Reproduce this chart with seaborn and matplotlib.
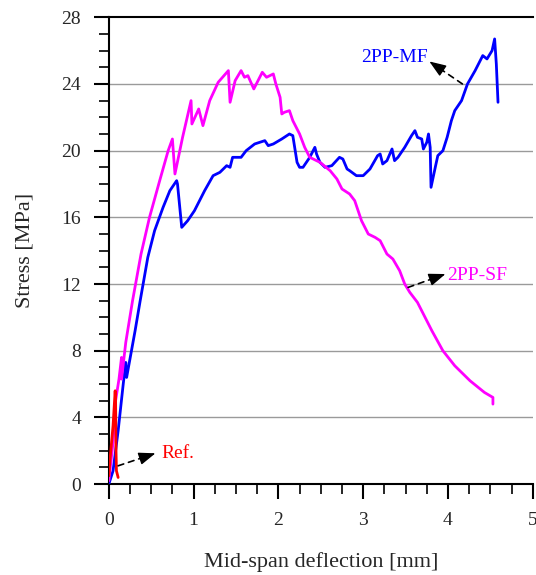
import numpy as np
import pandas as pd
import matplotlib
matplotlib.use("Agg")
import matplotlib.pyplot as plt
import seaborn as sns
from matplotlib.ticker import MultipleLocator

# Load-deflection curves (deflection in mm, stress in MPa)
ref_x = [0.0, 0.02, 0.05, 0.075, 0.08, 0.085, 0.09, 0.11]
ref_y = [0.5, 1.8, 3.5, 5.6, 5.0, 2.0, 0.8, 0.4]

sf_x = [0.0, 0.05, 0.08, 0.12, 0.15, 0.15, 0.2, 0.28, 0.38, 0.48, 0.6, 0.70, 0.75,
        0.78, 0.87, 0.97, 0.98, 1.06, 1.11, 1.19, 1.29, 1.41, 1.43, 1.49, 1.56,
        1.60, 1.64, 1.71, 1.81, 1.86, 1.94, 1.97, 2.02, 2.04, 2.07, 2.13, 2.17,
        2.25, 2.31, 2.37, 2.49, 2.61, 2.69, 2.75, 2.84, 2.90, 2.98, 3.06, 3.14,
        3.20, 3.28, 3.35, 3.43, 3.49, 3.55, 3.64, 3.73, 3.81, 3.94, 4.08, 4.26,
        4.43, 4.53, 4.53]
sf_y = [0.2, 2.5, 5.0, 6.3, 7.6, 6.3, 8.5, 11.0, 13.8, 16.0, 18.2, 20.0, 20.7,
        18.6, 20.8, 23.0, 21.6, 22.5, 21.5, 23.0, 24.1, 24.8, 22.9, 24.2, 24.8,
        24.4, 24.5, 23.7, 24.7, 24.4, 24.6, 24.0, 23.2, 22.2, 22.3, 22.4, 21.8,
        21.0, 20.2, 19.6, 19.3, 18.8, 18.3, 17.7, 17.4, 17.0, 15.8, 15.0, 14.8,
        14.6, 13.8, 13.5, 12.8, 12.0, 11.5, 10.9, 10.0, 9.2, 8.0, 7.1, 6.2,
        5.5, 5.2, 4.8]

mf_x = [0.0, 0.05, 0.11, 0.17, 0.20, 0.21, 0.31, 0.37, 0.46, 0.54, 0.64, 0.72,
        0.80, 0.81, 0.86, 0.93, 1.01, 1.07, 1.13, 1.23, 1.31, 1.39, 1.43, 1.46,
        1.56, 1.62, 1.72, 1.84, 1.88, 1.94, 2.04, 2.13, 2.17, 2.22, 2.25, 2.29,
        2.37, 2.43, 2.45, 2.49, 2.55, 2.63, 2.72, 2.76, 2.81, 2.84, 2.92, 3.00,
        3.08, 3.17, 3.20, 3.23, 3.28, 3.34, 3.37, 3.41, 3.49, 3.57, 3.61, 3.64,
        3.69, 3.71, 3.75, 3.77, 3.79, 3.80, 3.85, 3.88, 3.94, 3.99, 4.04, 4.08,
        4.16, 4.23, 4.32, 4.40, 4.41, 4.46, 4.52, 4.55, 4.57, 4.59]
mf_y = [0.0, 0.8, 3.2, 6.0, 7.3, 6.4, 9.2, 11.0, 13.6, 15.2, 16.6, 17.6,
        18.2, 18.0, 15.4, 15.8, 16.4, 17.0, 17.6, 18.5, 18.7, 19.1, 19.0, 19.6,
        19.6, 20.0, 20.4, 20.6, 20.3, 20.4, 20.7, 21.0, 20.9, 19.3, 19.0, 19.0,
        19.6, 20.2, 19.8, 19.3, 19.0, 19.1, 19.6, 19.5, 18.9, 18.8, 18.5, 18.5,
        18.9, 19.7, 19.8, 19.2, 19.4, 20.1, 19.4, 19.6, 20.2, 20.9, 21.2, 20.8,
        20.7, 20.1, 20.5, 21.0, 20.2, 17.8, 19.0, 19.7, 20.0, 20.8, 21.8, 22.4,
        23.0, 24.0, 24.8, 25.6, 25.7, 25.5, 26.0, 26.7, 25.2, 22.9]

colors = {"Ref.": "#ff0000", "2PP-SF": "#ff00ff", "2PP-MF": "#0000ff"}

frames = []
for name, xs, ys in [("2PP-MF", mf_x, mf_y), ("2PP-SF", sf_x, sf_y), ("Ref.", ref_x, ref_y)]:
    frames.append(pd.DataFrame({"deflection": xs, "stress": ys, "specimen": name}))
df = pd.concat(frames, ignore_index=True)

sns.set_style("white")
plt.rcParams["font.family"] = ["Liberation Serif", "DejaVu Serif"]

fig = plt.figure(figsize=(5.36, 5.75), dpi=100)
ax = fig.add_axes([0.203, 0.158, 0.791, 0.812])

for name in ["2PP-MF", "2PP-SF", "Ref."]:
    sub = df[df["specimen"] == name]
    sns.lineplot(data=sub, x="deflection", y="stress", sort=False, estimator=None,
                 color=colors[name], lw=2.0, ax=ax, legend=False, zorder=3)

ax.set_xlim(0, 5)
ax.set_ylim(0, 28)
ax.xaxis.set_major_locator(MultipleLocator(1))
ax.xaxis.set_minor_locator(MultipleLocator(0.25))
ax.yaxis.set_major_locator(MultipleLocator(4))
ax.yaxis.set_minor_locator(MultipleLocator(1))

for yv in range(4, 28, 4):
    ax.axhline(yv, color="#9a9a9a", lw=1.0, zorder=1)

ax.tick_params(axis="both", which="major", direction="out", length=11, width=1.5,
               labelsize=14, color="black", bottom=True, left=True)
ax.tick_params(axis="both", which="minor", direction="out", length=7, width=1.2,
               color="black", bottom=True, left=True)
ax.tick_params(axis="x", which="major", pad=9)
ax.tick_params(axis="y", which="major", pad=9)

for side in ["left", "bottom", "top"]:
    ax.spines[side].set_visible(True)
    ax.spines[side].set_linewidth(1.5)
    ax.spines[side].set_color("black")
ax.spines["right"].set_visible(False)

ax.set_xlabel("Mid-span deflection [mm]", fontsize=16, labelpad=17)
ax.set_ylabel("Stress [MPa]", fontsize=16, labelpad=19)


def callout(tail, head, text, text_pos, ha, color):
    """Dashed leader with a solid filled arrowhead pointing at the label."""
    ax.annotate("", xy=head, xytext=tail,
                arrowprops=dict(arrowstyle="-", linestyle=(0, (3.5, 3)), color="black",
                                lw=1.2, shrinkA=0, shrinkB=6))
    near = (head[0] - 0.2 * (head[0] - tail[0]), head[1] - 0.2 * (head[1] - tail[1]))
    ax.annotate("", xy=head, xytext=near,
                arrowprops=dict(arrowstyle="-|>,head_length=0.85,head_width=0.32",
                                color="black", lw=1.0, mutation_scale=12,
                                shrinkA=0, shrinkB=0))
    ax.text(text_pos[0], text_pos[1], text, color=color, fontsize=14,
            va="center", ha=ha)


callout((0.11, 1.1), (0.55, 1.85), "Ref.", (0.62, 1.85), "left", colors["Ref."])
callout((4.17, 24.0), (3.78, 25.35), "2PP-MF", (3.76, 25.6), "right", colors["2PP-MF"])
callout((3.53, 11.8), (3.97, 12.6), "2PP-SF", (3.99, 12.5), "left", colors["2PP-SF"])

fig.savefig("out.png", dpi=100)
